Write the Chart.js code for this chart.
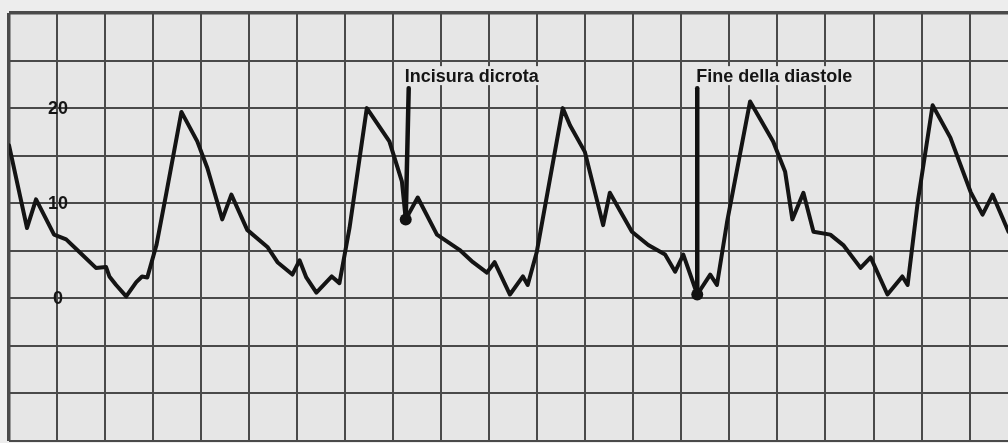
<!DOCTYPE html>
<html><head><meta charset="utf-8">
<script src="https://cdn.jsdelivr.net/npm/chart.js@4/dist/chart.umd.min.js"></script>
<style>html,body{margin:0;padding:0;background:#ededed;overflow:hidden}#wrap{width:1008px;height:443px;position:relative}</style>
</head><body><div id="wrap"><canvas id="c" width="1008" height="443"></canvas></div>
<script>
// time in grid cells, pressure in chart units
const timeCells = [0,0.375,0.563,0.938,1.19,1.46,1.81,2.02,2.09,2.23,2.44,2.65,2.77,2.88,3.07,3.27,3.59,3.92,4.13,4.44,4.63,4.96,5.38,5.59,5.90,6.05,6.19,6.40,6.72,6.88,7.09,7.45,7.92,8.18,8.26,8.51,8.91,9.38,9.66,9.95,10.11,10.43,10.70,10.80,10.99,11.53,11.68,11.99,12.37,12.51,12.97,13.31,13.66,13.87,14.04,14.33,14.60,14.74,14.95,15.43,15.91,16.16,16.31,16.54,16.75,17.10,17.37,17.73,17.94,18.29,18.60,18.71,18.92,19.23,19.60,20.02,20.27,20.48,20.81];
const pressure = [16.1,7.4,10.4,6.7,6.2,4.9,3.2,3.3,2.3,1.4,0.2,1.7,2.3,2.2,5.6,10.9,19.6,16.5,13.7,8.3,10.9,7.2,5.4,3.8,2.5,4.0,2.2,0.6,2.3,1.6,7.4,20.0,16.5,12.3,8.3,10.6,6.7,5.1,3.8,2.7,3.8,0.4,2.3,1.4,4.9,20.0,18.2,15.4,7.7,11.1,7.0,5.6,4.6,2.8,4.6,0.4,2.5,1.4,8.0,20.7,16.5,13.3,8.3,11.1,7.0,6.7,5.6,3.2,4.3,0.4,2.3,1.4,10.1,20.3,16.9,11.2,8.8,10.9,7.0];
const yTickValues = [20,10,0];
const yTickLabels = ['20','10','0'];
const annotationTexts = ['Incisura dicrota','Fine della diastole'];
const annotationTimes = [8.26,14.33];
const annotationTopValue = [22.1,22.1];

const points = timeCells.map((t,i)=>({x:t,y:pressure[i]}));

const overlay = {
  id:'overlay',
  beforeDraw(chart){
    const c=chart.ctx;
    c.save();c.fillStyle='#ededed';c.fillRect(0,0,chart.width,chart.height);
    const a=chart.chartArea;c.fillStyle='#e6e6e6';c.fillRect(a.left,a.top,a.right-a.left,a.bottom-a.top);
    c.restore();
  },
  afterDatasetsDraw(chart){
    const c=chart.ctx, xs=chart.scales.x, ys=chart.scales.y;
    c.save();
    // y tick labels inside the grid
    c.font='bold 18px "Liberation Sans", Arial, sans-serif';
    c.fillStyle='#151515';c.textAlign='center';c.textBaseline='middle';
    yTickValues.forEach((v,i)=>{c.fillText(yTickLabels[i], xs.getPixelForValue(1)+1, ys.getPixelForValue(v)+1);});
    // annotations
    annotationTexts.forEach((txt,i)=>{
      const t=annotationTimes[i];
      let idx=0,best=1e9;timeCells.forEach((tc,k)=>{const d=Math.abs(tc-t);if(d<best){best=d;idx=k;}});
      const px=xs.getPixelForValue(timeCells[idx]), py=ys.getPixelForValue(pressure[idx]);
      const top=ys.getPixelForValue(annotationTopValue[i]);
      c.font='bold 18px "Liberation Sans", Arial, sans-serif';
      c.textAlign='left';c.textBaseline='alphabetic';
      c.fillStyle='#e6e6e6';
      const w=c.measureText(txt).width;
      c.fillRect(px-3,top-22,w+4,19);
      c.fillStyle='#151515';
      c.fillText(txt,px-1,top-6);
      c.strokeStyle='#111';c.lineWidth=4.5;c.lineCap='round';
      c.beginPath();c.moveTo(px+(i===0?3:0),top);c.lineTo(px,py);c.stroke();
      c.fillStyle='#111';c.beginPath();c.arc(px,py,6,0,Math.PI*2);c.fill();
    });
    c.restore();
  }
};

new Chart(document.getElementById('c'),{
  type:'line',
  data:{datasets:[{data:points,borderColor:'#141414',borderWidth:4,pointRadius:0,tension:0,fill:false,borderJoinStyle:'round',borderCapStyle:'round'}]},
  options:{
    responsive:false,animation:false,devicePixelRatio:1,
    layout:{padding:{left:9,top:13,right:0,bottom:2}},
    plugins:{legend:{display:false},tooltip:{enabled:false}},
    scales:{
      x:{type:'linear',min:0,max:20.8,
        ticks:{display:false,stepSize:1,includeBounds:false},
        border:{display:false},
        grid:{color:'#4a4a4a',lineWidth:c=>c.tick&&c.tick.value===0?3.5:2,drawTicks:false}},
      y:{type:'linear',min:-15,max:30,
        ticks:{display:false,stepSize:5},
        border:{display:false},
        grid:{color:'#4a4a4a',lineWidth:c=>c.tick&&c.tick.value===30?3.5:2,drawTicks:false}}
    }
  },
  plugins:[overlay]
});
</script></body></html>
